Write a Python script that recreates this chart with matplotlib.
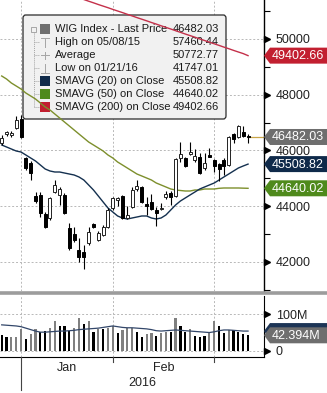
import numpy as np
import matplotlib
matplotlib.use("Agg")
import matplotlib.pyplot as plt
from matplotlib.patches import Polygon, FancyBboxPatch, Rectangle
from matplotlib.lines import Line2D
from matplotlib.transforms import blended_transform_factory

plt.rcParams['font.family'] = ['Liberation Sans', 'DejaVu Sans']

# WIG index, daily bars (late Dec 2015 -> early Mar 2016)
opens = [46266, 46589, 46560, 46805, 47128, 45728, 45548, 44364, 44400, 43718,
         43574, 44507, 44400, 44400, 43215, 42999, 42425, 42353, 42676, 43358,
         42784, 42964, 43251, 43933, 44220, 44364, 43574, 43969, 44615, 44687,
         44076, 44148, 43861, 43897, 44328, 44471, 44364, 45728, 45728, 45872,
         45656, 45764, 45369, 45836, 45656, 45512, 45656, 45477, 46589, 46482,
         46661, 46500]
highs = [46554, 46697, 46680, 47236, 47272, 45764, 45620, 44507, 44507, 43789,
         44328, 44938, 44687, 44471, 43394, 43251, 42856, 42605, 43251, 43394,
         43107, 43322, 43933, 44328, 44328, 44400, 44005, 44687, 44938, 44723,
         44328, 44435, 43969, 44112, 44543, 44543, 45728, 46302, 45764, 46302,
         46051, 45907, 45907, 46087, 45692, 45548, 45728, 46518, 46625, 46913,
         46877, 46589]
lows = [46195, 46518, 46480, 46769, 46446, 45297, 44938, 44112, 43610, 43215,
        43502, 44471, 44041, 43718, 42425, 42712, 41994, 41747.01, 42605, 43215,
        42748, 42928, 43215, 43861, 44005, 43538, 43538, 43933, 44543, 44112,
        43682, 43861, 43287, 43861, 44256, 44041, 44328, 45584, 45405, 45836,
        45584, 45153, 45297, 45750, 45225, 44902, 45118, 45441, 46266, 46446,
        46482, 46266]
closes = [46446, 46661, 46620, 47092, 46482, 45369, 45189, 44184, 43753, 43251,
          44292, 44758, 44615, 43753, 42497, 42784, 42173, 42173, 43071, 43251,
          43035, 43251, 43861, 44292, 44292, 43574, 43682, 44579, 44723, 44148,
          44005, 43897, 43753, 43920, 44435, 44328, 45692, 45872, 45441, 45943,
          45800, 45189, 45548, 45770, 45441, 45333, 45441, 46482, 46410, 46877,
          46518, 46482.03]

sma20 = [46196, 46123, 46051, 45979, 45943, 45836, 45728, 45620, 45477, 45333,
         45261, 45225, 45225, 45189, 45153, 45118, 45046, 44938, 44759, 44579,
         44364, 44148, 43933, 43789, 43646, 43574, 43538, 43574, 43610, 43646,
         43646, 43574, 43538, 43574, 43682, 43861, 44041, 44184, 44292, 44400,
         44507, 44615, 44687, 44759, 44830, 44938, 45046, 45153, 45261, 45369,
         45441, 45508.82]
sma50 = [48672, 48564, 48420, 48313, 48205, 48061, 47954, 47846, 47702, 47559,
         47451, 47307, 47164, 47020, 46877, 46733, 46589, 46446, 46302, 46195,
         46087, 45979, 45836, 45728, 45584, 45477, 45369, 45261, 45153, 45082,
         45010, 44938, 44830, 44759, 44687, 44615, 44579, 44561, 44543, 44543,
         44579, 44579, 44615, 44615, 44615, 44640, 44651, 44651, 44651, 44651,
         44645, 44640.02]
sma200 = [52416, 52359, 52301, 52240, 52183, 52122, 52064, 52007, 51946, 51888,
          51827, 51770, 51712, 51651, 51594, 51533, 51475, 51418, 51357, 51299,
          51238, 51181, 51124, 51063, 51005, 50948, 50887, 50829, 50768, 50711,
          50653, 50592, 50535, 50474, 50416, 50359, 50298, 50240, 50179, 50122,
          50065, 50003, 49946, 49885, 49828, 49770, 49709, 49652, 49591, 49533,
          49476, 49402.66]

volume_m = [43, 37, 37, 38, 60, 31, 46, 59, 52, 55,
            63, 82, 69, 69, 54, 63, 91, 73, 82, 52,
            60, 59, 63, 69, 49, 57, 63, 63, 52, 38,
            46, 49, 40, 49, 52, 52, 91, 69, 52, 59,
            40, 38, 40, 52, 82, 69, 49, 57, 57, 52,
            45, 42.394]
volume_grey = [0, 0, 1, 1, 1, 0, 1, 1, 0, 0,
               1, 1, 0, 0, 0, 1, 1, 0, 1, 0,
               1, 0, 1, 1, 0, 1, 1, 1, 0, 0,
               1, 1, 0, 1, 1, 0, 1, 0, 0, 1,
               0, 0, 0, 1, 1, 0, 0, 1, 0, 0,
               0, 0]
volume_ma_m = [71, 70, 69, 68, 66, 62, 58, 54, 51, 51,
               52, 53, 54, 54, 55, 56, 58, 59, 60, 61,
               62, 64, 66, 68, 66, 64, 63, 63, 62, 61,
               60, 58, 55, 54, 55, 56, 57, 56, 55, 54,
               53, 52, 51, 50, 52, 55, 57, 57, 56, 55,
               54, 54]

month_starts = [4, 23, 44]          # first trading day of Jan, Feb, Mar
month_labels = ['Jan', 'Feb']
year_label = '2016'
price_ticks = [42000, 44000, 46000, 48000, 50000]
price_minor = [41000, 43000, 45000, 47000, 49000, 51000]
vol_ticks = [0, 100]
vol_tick_labels = ['0', '100M']

legend_names = ['WIG Index - Last Price', 'High on 05/08/15', 'Average',
                'Low on 01/21/16', 'SMAVG (20) on Close', 'SMAVG (50) on Close',
                'SMAVG (200) on Close']
legend_values = ['46482.03', '57460.44', '50772.77', '41747.01',
                 '45508.82', '44640.02', '49402.66']

# colours
C_PRICE = '#6e6e6e'
C_SMA20 = '#14304f'
C_SMA50 = '#7d8f2c'
C_SMA50_TAG = '#4f8a1c'
C_SMA200 = '#c4304a'
C_SMA200_TAG = '#c21f30'
C_GRID = '#b8b8b8'

W, H = 327, 393
def fx(px):
    return px / W
def fy(py):
    return 1 - py / H

fig = plt.figure(figsize=(W / 100, H / 100), dpi=100)
ax = fig.add_axes([0, fy(291), fx(263.5), 291 / H])
axv = fig.add_axes([0, fy(357), fx(263.5), 61 / H])

n = len(closes)
x = np.arange(n)
XMAX = 54.2

# ---- price panel ----
ax.set_xlim(-0.35, XMAX)
ax.set_ylim(40953, 51400)
ax.set_axisbelow(True)
for s in ['top', 'left', 'bottom']:
    ax.spines[s].set_visible(False)
ax.spines['right'].set_linewidth(1.0)
ax.yaxis.tick_right()
ax.set_yticks(price_ticks)
ax.set_yticks(price_minor, minor=True)
ax.set_yticklabels([str(t) for t in price_ticks])
ax.tick_params(axis='y', which='major', length=0, pad=9, labelsize=9, labelcolor='#222222')
ax.tick_params(axis='y', which='minor', length=4, width=0.8, direction='out')
ax.set_xticks(month_starts)
ax.tick_params(axis='x', length=0, labelbottom=False)
ax.grid(True, which='major', color=C_GRID, linestyle=(0, (2, 2)), lw=0.7)

ax.plot(x, sma200, color=C_SMA200, lw=1.0, zorder=2)
ax.plot(x, sma50, color=C_SMA50, lw=1.0, zorder=2)
ax.plot(x, sma20, color=C_SMA20, lw=1.0, zorder=2)

# candles
o = np.array(opens); c = np.array(closes)
up = c >= o
ax.vlines(x, lows, highs, color='black', lw=0.8, zorder=3)
body_lo = np.minimum(o, c)
body_h = np.maximum(np.abs(c - o), 18)
ax.bar(x[up], body_h[up], bottom=body_lo[up], width=0.62, color='white',
       edgecolor='#222222', linewidth=0.7, zorder=4)
ax.bar(x[~up], body_h[~up], bottom=body_lo[~up], width=0.62, color='black',
       edgecolor='black', linewidth=0.7, zorder=4)

# last price marker line
ax.plot([n - 1, XMAX], [closes[-1]] * 2, color='#c9a548', lw=0.9, zorder=2, clip_on=False)

tri = blended_transform_factory(ax.transAxes, ax.transData)
ax.plot([1 + 3.5 / 263.5] * len(price_ticks), price_ticks, ls='none', marker='>',
        ms=4.5, color='black', transform=tri, clip_on=False)

# legend box (behind lines, like the terminal chart)
ax.add_patch(FancyBboxPatch((fx(23), fy(119)), fx(203), 104 / H,
                            boxstyle='round,pad=0,rounding_size=0.008',
                            transform=fig.transFigure, fc='#f1f1f1', ec='#2a2a2a',
                            lw=0.9, zorder=1, clip_on=False))
rows_y = [29, 42.3, 55.3, 68.3, 81, 94.3, 107.3]
for name, val, ry in zip(legend_names, legend_values, rows_y):
    ax.text(fx(55), fy(ry), name, transform=fig.transFigure, fontsize=8,
            color='#1a1a1a', va='center', ha='left', zorder=1.2)
    ax.text(fx(219), fy(ry), val, transform=fig.transFigure, fontsize=8,
            color='#1a1a1a', va='center', ha='right', zorder=1.2)
icon_cols = {0: C_PRICE, 4: '#0f2a4a', 5: C_SMA50_TAG, 6: C_SMA200_TAG}
for k, col in icon_cols.items():
    ax.add_patch(Rectangle((fx(40), fy(rows_y[k] + 5)), fx(10), 10 / H,
                           transform=fig.transFigure, fc=col, ec='none',
                           zorder=1.2, clip_on=False))
tree = dict(transform=fig.transFigure, color='#a5a5a5', lw=0.7, zorder=1.1)
ax.add_line(Line2D([fx(33.5)] * 2, [fy(32), fy(107.3)], ls=(0, (1, 1)), **tree))
for ry in rows_y[1:]:
    ax.add_line(Line2D([fx(33.5), fx(39)], [fy(ry)] * 2, ls=(0, (1, 1)), **tree))
ax.add_patch(Rectangle((fx(31), fy(31.5)), fx(5), 5 / H, transform=fig.transFigure,
                       fc='#f1f1f1', ec='#9a9a9a', lw=0.6, zorder=1.2, clip_on=False))
ax.add_line(Line2D([fx(32), fx(35)], [fy(29)] * 2, **tree))
ax.add_line(Line2D([fx(41), fx(49)], [fy(37.5)] * 2, **tree))
ax.add_line(Line2D([fx(45)] * 2, [fy(37.5), fy(47)], **tree))
ax.add_line(Line2D([fx(41), fx(49)], [fy(55.3)] * 2, **tree))
ax.add_line(Line2D([fx(45)] * 2, [fy(52), fy(58.5)], **tree))
ax.add_line(Line2D([fx(45)] * 2, [fy(63.5), fy(73)], **tree))
ax.add_line(Line2D([fx(41), fx(49)], [fy(73)] * 2, **tree))

# ---- volume panel ----
axv.set_xlim(-0.35, XMAX)
axv.set_ylim(-17, 150)
axv.set_axisbelow(True)
for s in ['top', 'left']:
    axv.spines[s].set_visible(False)
axv.yaxis.tick_right()
axv.set_yticks(vol_ticks)
axv.set_yticklabels(vol_tick_labels)
axv.tick_params(axis='y', length=0, pad=9, labelsize=9, labelcolor='#222222')
axv.set_xticks(month_starts)
axv.tick_params(axis='x', length=0, labelbottom=False)
axv.grid(True, color=C_GRID, linestyle=(0, (2, 2)), lw=0.7)
vcols = ['#808080' if g else 'black' for g in volume_grey]
axv.bar(x, volume_m, width=0.45, color=vcols, zorder=2)
axv.plot(x, volume_ma_m, color='#33476a', lw=0.9, zorder=3)
trv = blended_transform_factory(axv.transAxes, axv.transData)
axv.plot([1 + 3.5 / 263.5] * len(vol_ticks), vol_ticks, ls='none', marker='>',
         ms=4.5, color='black', transform=trv, clip_on=False)

# separator between panels
fig.add_artist(Line2D([0, 1], [fy(293)] * 2, color='#9c9c9c', lw=2.6))

# date axis
for j, m in enumerate(month_starts):
    xp = ax.transData.transform((m, 0))[0]
    y_end = 390 if j == 0 else 362
    fig.add_artist(Line2D([fx(xp)] * 2, [fy(357), fy(y_end)], color='#444444', lw=0.8))
bx = blended_transform_factory(axv.transData, fig.transFigure)
for j, lab in enumerate(month_labels):
    xm = (month_starts[j] + month_starts[j + 1]) / 2
    axv.text(xm, fy(368), lab, transform=bx, ha='center', va='center', fontsize=9,
             color='#222222', clip_on=False)
axv.text((month_starts[0] + XMAX) / 2, fy(382.5), year_label, transform=bx,
         ha='center', va='center', fontsize=9, color='#222222', clip_on=False)


def tag(axis, value, col, label):
    yp = H - axis.transData.transform((0, value))[1]
    pts = [(264, yp), (270, yp - 8), (W + 2, yp - 8), (W + 2, yp + 8), (270, yp + 8)]
    fig.add_artist(Polygon([(fx(a), fy(b)) for a, b in pts], closed=True,
                           transform=fig.transFigure, fc=col, ec='none'))
    if label:
        fig.text(fx(272), fy(yp + 0.5), label, fontsize=9, color='white',
                 ha='left', va='center')


tag(ax, sma200[-1], C_SMA200_TAG, '%.2f' % sma200[-1])
tag(ax, closes[-1], C_PRICE, '%.2f' % closes[-1])
tag(ax, sma20[-1], '#0f2a4a', '%.2f' % sma20[-1])
tag(ax, sma50[-1], C_SMA50_TAG, '%.2f' % sma50[-1])
tag(axv, volume_ma_m[-1], '#1d3556', None)
tag(axv, volume_m[-1], C_PRICE, '%.3fM' % volume_m[-1])

fig.savefig('out.png', dpi=100)
